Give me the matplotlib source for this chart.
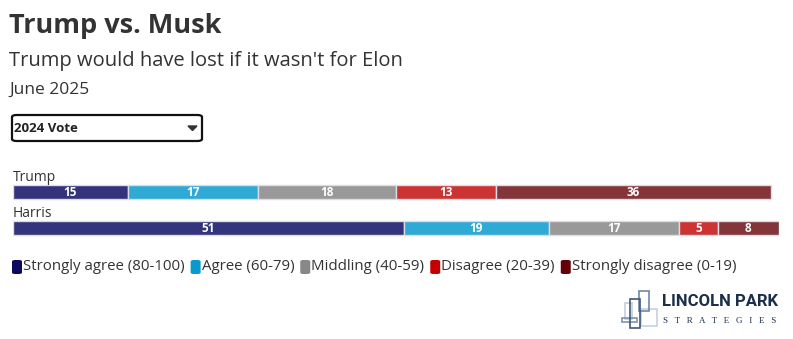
import numpy as np
import matplotlib.pyplot as plt
from matplotlib.patches import FancyBboxPatch, Rectangle, Polygon

# data
groups = ['Trump', 'Harris']
categories = ['Strongly agree (80-100)', 'Agree (60-79)', 'Middling (40-59)',
              'Disagree (20-39)', 'Strongly disagree (0-19)']
values = {
    'Trump': [15, 17, 18, 13, 36],
    'Harris': [51, 19, 17, 5, 8],
}
bar_colors = ['#34347c', '#2eaad4', '#999999', '#cc3333', '#84353a']
swatch_colors = ['#0b0b5e', '#0a99cc', '#888888', '#c40000', '#650008']

W, H = 793, 339
fig = plt.figure(figsize=(W / 100, H / 100), dpi=100)
plt.rcParams['font.family'] = ['Open Sans', 'DejaVu Sans']

def fx(px):
    return px / W

def fy(py):
    return 1 - py / H

# header
fig.text(fx(9), fy(26), 'Trump vs. Musk', fontsize=19.5, fontweight='bold',
         color='#333333', va='center', ha='left')
fig.text(fx(9), fy(61), "Trump would have lost if it wasn't for Elon", fontsize=14.5,
         color='#333333', va='center', ha='left')
fig.text(fx(9), fy(90), 'June 2025', fontsize=12.5, color='#333333',
         va='center', ha='left')

# dropdown box
box = FancyBboxPatch((fx(12), fy(141)), fx(190), 26 / H,
                     boxstyle='round,pad=0,rounding_size=0.006',
                     transform=fig.transFigure, facecolor='white',
                     edgecolor='#111111', linewidth=1.6)
fig.patches.append(box)
fig.text(fx(14), fy(128), '2024 Vote', fontsize=9.5, fontweight='bold',
         color='#222222', va='center', ha='left')
tri = Polygon([(fx(188), fy(126)), (fx(197), fy(126)), (fx(192.5), fy(130.5))],
              closed=True, transform=fig.transFigure, color='#333333')
fig.patches.append(tri)

# bars
ax = fig.add_axes([fx(13), fy(246), fx(766), 72 / H])
ypos = np.arange(len(groups))
for i, g in enumerate(groups):
    left = 0
    for j, v in enumerate(values[g]):
        ax.barh(ypos[i], v, left=left, height=0.39, color=bar_colors[j],
                edgecolor='#dcdce8', linewidth=1)
        ax.text(left + v / 2, ypos[i], str(v), ha='center', va='center',
                color='white', fontsize=8.5, fontweight='bold')
        left += v
    ax.text(0, ypos[i] - 0.2, g, ha='left', va='bottom', fontsize=10,
            color='#333333')
ax.set_xlim(0, 100)
ax.set_ylim(1.5, -0.5)
ax.axis('off')

# legend
lx = 12
for j, c in enumerate(categories):
    sw = FancyBboxPatch((fx(lx), fy(274)), fx(10), 14 / H,
                        boxstyle='round,pad=0,rounding_size=0.004',
                        transform=fig.transFigure, facecolor=swatch_colors[j],
                        edgecolor='none')
    fig.patches.append(sw)
    t = fig.text(fx(lx + 11), fy(267), c, fontsize=10.8, color='#333333',
                 va='center', ha='left')
    fig.canvas.draw()
    bb = t.get_window_extent()
    lx = bb.x1 + 6

# logo
logo_rects = [(625, 303, 7, 16, '#c3d0df'), (641, 309, 16, 17, '#c5d2e0'),
              (639, 291, 10, 20, '#6f86a8'), (622, 318, 15, 4, '#7d93b0'),
              (630, 299, 10, 29, '#3f5778')]
for x0, y0, w, h, c in logo_rects:
    fig.patches.append(Rectangle((fx(x0), fy(y0 + h)), fx(w), h / H,
                                 transform=fig.transFigure, fill=False,
                                 edgecolor=c, linewidth=1.2))
fig.text(fx(662), fy(302), 'LINCOLN PARK', fontsize=12, fontweight='bold',
         color='#1c2f4a', va='center', ha='left',
         family=['Roboto', 'DejaVu Sans'], fontstretch='condensed')
fig.text(fx(663), fy(321), 'S   T   R   A   T   E   G   I   E   S', fontsize=6.5,
         color='#1c2f4a', va='center', ha='left',
         family=['Liberation Serif', 'DejaVu Serif'])

fig.savefig('out.png', dpi=100)
